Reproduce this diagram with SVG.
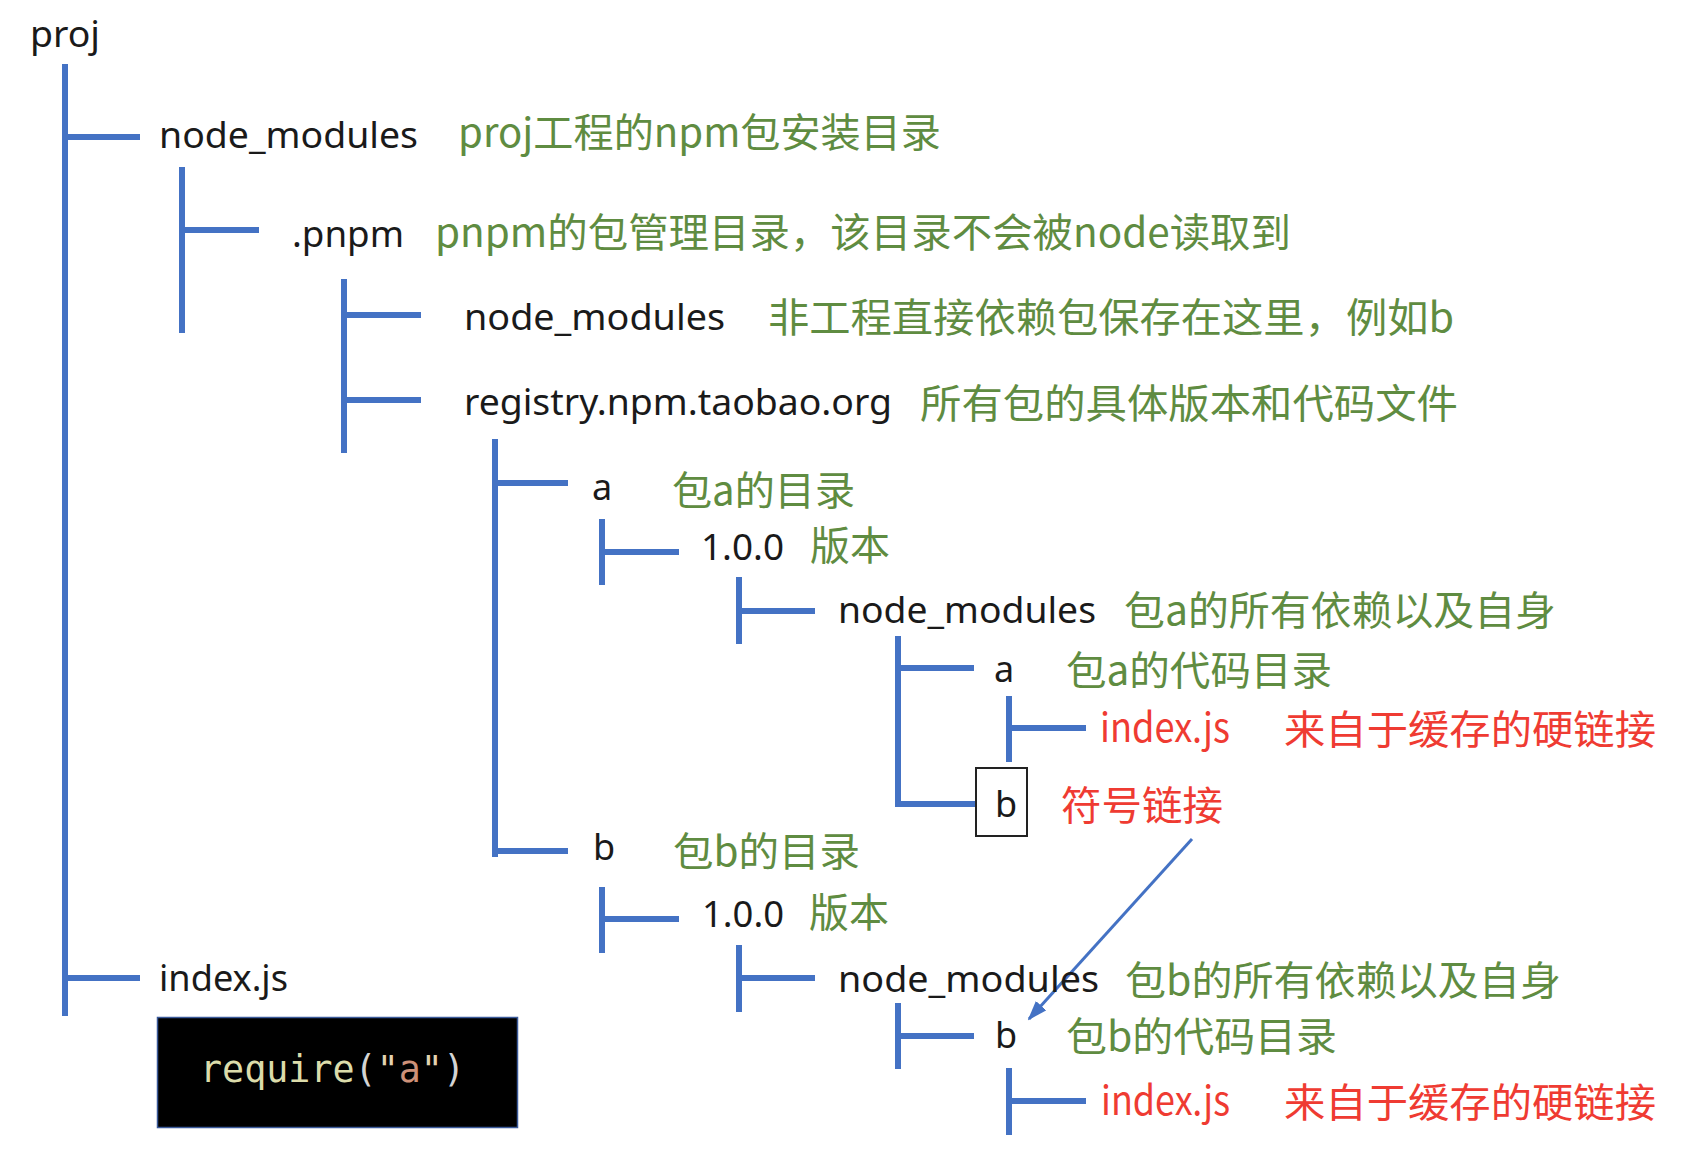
<svg xmlns="http://www.w3.org/2000/svg" width="1686" height="1160" viewBox="0 0 1686 1160">
<style>
.lbl{font-family:"Noto Sans","Noto Sans CJK SC",sans-serif;font-size:36px;fill:#1a1a1a}
.cmt{font-family:"Noto Sans CJK SC",sans-serif;font-size:40px;fill:#5f8c41}
.red{font-family:"Noto Sans CJK SC",sans-serif;font-size:40px;fill:#ef3b32}
.ln{stroke:#4472c4;stroke-width:6;fill:none}
.code{font-family:"DejaVu Sans Mono","Liberation Mono",monospace;font-size:37px}
</style>
<defs>
<marker id="ah" markerUnits="userSpaceOnUse" markerWidth="20" markerHeight="14" refX="18" refY="7" orient="auto">
<path d="M0,0 L20,7 L0,14 z" fill="#4472c4"/>
</marker>
</defs>
<rect width="1686" height="1160" fill="#ffffff"/>
<g id="connectors">
<path class="ln" d="M65,64 V1016 M65,137 H140 M65,978 H140"/>
<path class="ln" d="M182,167 V333 M182,230 H259"/>
<path class="ln" d="M344,279 V453 M344,315 H421 M344,400 H421"/>
<path class="ln" d="M495,439 V857 M495,483 H568 M495,851 H568"/>
<path class="ln" d="M602,519 V585 M602,552 H679"/>
<path class="ln" d="M739,577 V644 M739,611 H815"/>
<path class="ln" d="M898,636 V807 M898,668 H974 M898,804 H976"/>
<path class="ln" d="M1009,696 V762 M1009,728 H1086"/>
<path class="ln" d="M602,887 V953 M602,919 H679"/>
<path class="ln" d="M739,945 V1012 M739,978 H815"/>
<path class="ln" d="M898,1003 V1069 M898,1036 H974"/>
<path class="ln" d="M1009,1068 V1135 M1009,1101 H1086"/>
<line x1="1192" y1="839" x2="1029" y2="1019" stroke="#4472c4" stroke-width="3" marker-end="url(#ah)"/>
</g>
<g id="proj"><text class="lbl" x="30" y="47" font-size="40" textLength="70" lengthAdjust="spacingAndGlyphs">proj</text></g>
<g id="node_modules_root">
<text class="lbl" x="159" y="148" textLength="259" lengthAdjust="spacingAndGlyphs">node_modules</text>
<text class="cmt" x="458" y="147" textLength="483" lengthAdjust="spacingAndGlyphs">proj工程的npm包安装目录</text>
</g>
<g id="pnpm">
<text class="lbl" x="292" y="247" textLength="112" lengthAdjust="spacingAndGlyphs">.pnpm</text>
<text class="cmt" x="435" y="247" textLength="856" lengthAdjust="spacingAndGlyphs">pnpm的包管理目录，该目录不会被node读取到</text>
</g>
<g id="pnpm_node_modules">
<text class="lbl" x="464" y="330" textLength="261" lengthAdjust="spacingAndGlyphs">node_modules</text>
<text class="cmt" x="768" y="332" textLength="686" lengthAdjust="spacingAndGlyphs">非工程直接依赖包保存在这里，例如b</text>
</g>
<g id="registry">
<text class="lbl" x="464" y="415" textLength="428" lengthAdjust="spacingAndGlyphs">registry.npm.taobao.org</text>
<text class="cmt" x="920" y="418" textLength="538" lengthAdjust="spacingAndGlyphs">所有包的具体版本和代码文件</text>
</g>
<g id="pkg_a">
<text class="lbl" x="592" y="500">a</text>
<text class="cmt" x="672" y="505" textLength="183" lengthAdjust="spacingAndGlyphs">包a的目录</text>
</g>
<g id="pkg_a_version">
<text class="lbl" x="701" y="560" font-size="38" textLength="83" lengthAdjust="spacingAndGlyphs">1.0.0</text>
<text class="cmt" x="810" y="560" textLength="80" lengthAdjust="spacingAndGlyphs">版本</text>
</g>
<g id="pkg_a_node_modules">
<text class="lbl" x="838" y="623" textLength="258" lengthAdjust="spacingAndGlyphs">node_modules</text>
<text class="cmt" x="1124" y="625" textLength="432" lengthAdjust="spacingAndGlyphs">包a的所有依赖以及自身</text>
</g>
<g id="pkg_a_code">
<text class="lbl" x="994" y="682">a</text>
<text class="cmt" x="1066" y="685" textLength="266" lengthAdjust="spacingAndGlyphs">包a的代码目录</text>
</g>
<g id="pkg_a_index">
<text class="red" x="1100" y="742" textLength="130" lengthAdjust="spacingAndGlyphs">index.js</text>
<text class="red" x="1284" y="744" textLength="372" lengthAdjust="spacingAndGlyphs">来自于缓存的硬链接</text>
</g>
<g id="symlink_b">
<rect x="976" y="768" width="51" height="68" fill="#ffffff" stroke="#222222" stroke-width="2"/>
<text class="lbl" x="995" y="817">b</text>
<text class="red" x="1061" y="820" textLength="162" lengthAdjust="spacingAndGlyphs">符号链接</text>
</g>
<g id="pkg_b">
<text class="lbl" x="593" y="860">b</text>
<text class="cmt" x="673" y="866" textLength="187" lengthAdjust="spacingAndGlyphs">包b的目录</text>
</g>
<g id="pkg_b_version">
<text class="lbl" x="702" y="927" font-size="38" textLength="82" lengthAdjust="spacingAndGlyphs">1.0.0</text>
<text class="cmt" x="809" y="927" textLength="80" lengthAdjust="spacingAndGlyphs">版本</text>
</g>
<g id="index_root">
<text class="lbl" x="159" y="991" textLength="129" lengthAdjust="spacingAndGlyphs">index.js</text>
</g>
<g id="pkg_b_node_modules">
<text class="lbl" x="838" y="992" textLength="261" lengthAdjust="spacingAndGlyphs">node_modules</text>
<text class="cmt" x="1125" y="995" textLength="436" lengthAdjust="spacingAndGlyphs">包b的所有依赖以及自身</text>
</g>
<g id="pkg_b_code">
<text class="lbl" x="995" y="1048">b</text>
<text class="cmt" x="1066" y="1051" textLength="271" lengthAdjust="spacingAndGlyphs">包b的代码目录</text>
</g>
<g id="pkg_b_index">
<text class="red" x="1101" y="1115" textLength="129" lengthAdjust="spacingAndGlyphs">index.js</text>
<text class="red" x="1284" y="1117" textLength="372" lengthAdjust="spacingAndGlyphs">来自于缓存的硬链接</text>
</g>
<g id="require_code">
<rect x="157.5" y="1017.5" width="360" height="110" fill="#000000" stroke="#3b5a9a" stroke-width="1.5"/>
<text class="code" x="200" y="1082" textLength="265" lengthAdjust="spacingAndGlyphs"><tspan fill="#dcdcaa">require</tspan><tspan fill="#d4d4d4">(</tspan><tspan fill="#e3d3b0">"</tspan><tspan fill="#ce9178">a</tspan><tspan fill="#e3d3b0">"</tspan><tspan fill="#d4d4d4">)</tspan></text>
</g>
</svg>
